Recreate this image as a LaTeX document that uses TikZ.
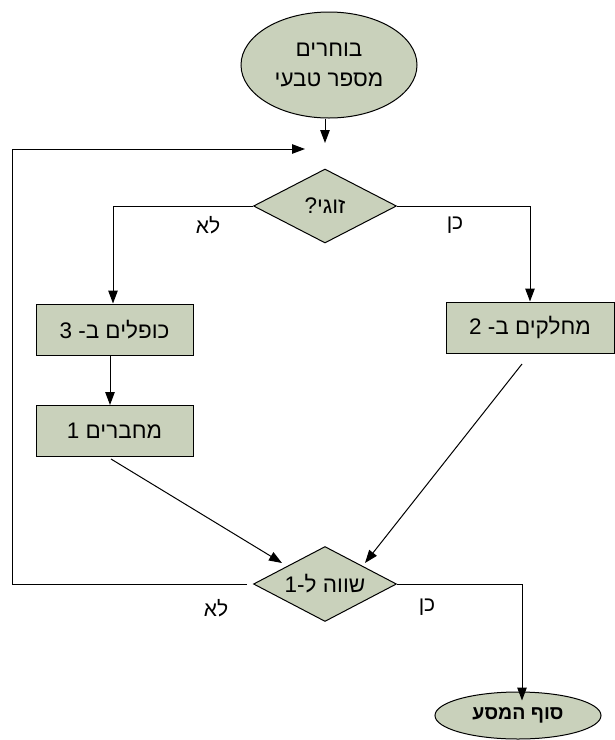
\documentclass[tikz,border=0pt]{standalone}
\usepackage{fontspec}
\setmainfont{Liberation Sans}
\newfontfamily\hebfont[Script=Hebrew]{Liberation Sans}
\TeXXeTstate=1
\usetikzlibrary{shapes.geometric,arrows.meta}
\definecolor{boxfill}{RGB}{201,209,187}
\newcommand{\heb}[1]{\hebfont\beginR #1\endR}
\begin{document}
\begin{tikzpicture}[x=1pt,y=-1pt,
  every node/.style={font=\hebfont\fontsize{22.5}{27}\selectfont},
  shapebase/.style={draw=black,line width=1pt,fill=boxfill,inner sep=0pt},
  oval/.style={shapebase,ellipse},
  dec/.style={shapebase,diamond,aspect=2,minimum width=143pt,minimum height=74pt},
  stepbox/.style={shapebase,rectangle,minimum width=157pt,minimum height=51pt},
  conn/.style={line width=1pt,draw=black},
  arr/.style={conn,-{Triangle[length=13pt,width=9.5pt]}},
  lbl/.style={font=\hebfont\fontsize{21}{25}\selectfont}]
\useasboundingbox (0,0) rectangle (615,740);

\node[oval,minimum width=176pt,minimum height=106pt,align=center] (start) at (329,65)
  {\heb{בוחרים}\\[3pt]\heb{מספר טבעי}};
\node[dec] (d1) at (325,206) {\heb{זוגי?}};
\node[stepbox] (b1) at (114.5,329.5) {\heb{כופלים ב- 3}};
\node[stepbox] (b2) at (114.5,431) {\heb{מחברים 1}};
\node[stepbox,minimum width=168pt] (b3) at (530,327.5) {\heb{מחלקים ב- 2}};
\node[dec,minimum height=75pt] (d2) at (325,584) {\heb{שווה ל-1}};
\node[oval,minimum width=166pt,minimum height=47pt,font=\hebfont\bfseries\fontsize{19.5}{23}\selectfont] (end) at (518,715.5) {\heb{סוף המסע}};

\coordinate (j1) at (325,143);
\coordinate (j2) at (305,149);
\coordinate (fb0) at (247,584);
\coordinate (fb1) at (12,584);
\coordinate (fb2) at (12,149);
\coordinate (l1) at (113,206);
\coordinate (r1) at (530,206);
\coordinate (r2) at (522,584);
\coordinate (s2) at (111,459);
\coordinate (t2) at (282,563);
\coordinate (s3) at (522,364);
\coordinate (t3) at (365,563);

\draw[arr] (start.south -| j1) -- (j1);
\draw[arr] (fb0) -- (fb1) -- (fb2) -- (j2);
\draw[arr] (d1.west) -- (l1) -- (b1.north -| l1);
\draw[arr] (d1.east) -- (r1) -- (b3.north -| r1);
\draw[arr] (b1.south -| 110,0) -- (b2.north -| 110,0);
\draw[arr] (s2) -- (t2);
\draw[arr] (s3) -- (t3);
\draw[arr] (d2.east) -- (r2) -- ([yshift=-9pt]end.north -| r2);

\node[lbl] (no1) at (208,225) {\heb{לא}};
\node[lbl] (yes1) at (455,225) {\heb{כן}};
\node[lbl] (no2) at (216,608) {\heb{לא}};
\node[lbl] (yes2) at (427,607) {\heb{כן}};
\end{tikzpicture}
\end{document}
